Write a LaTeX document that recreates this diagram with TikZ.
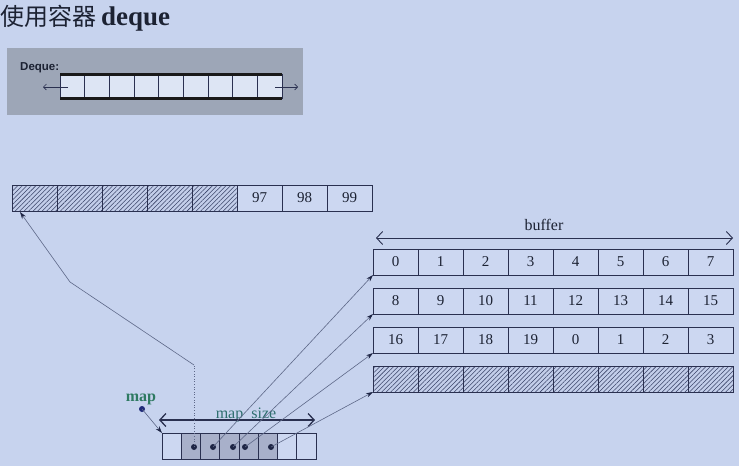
\documentclass[tikz,border=0pt]{standalone}
\usepackage{fontspec}
\setmainfont{Liberation Serif}
\newfontfamily\cjk{Noto Sans CJK SC}
\newfontfamily\lsans{Liberation Sans}
\usetikzlibrary{patterns.meta,arrows.meta}
\definecolor{bgc}{HTML}{C7D3EE}
\definecolor{cellc}{HTML}{CCD7F1}
\definecolor{linec}{HTML}{2A3050}
\definecolor{hatchc}{HTML}{3A4468}
\definecolor{hatchbg}{HTML}{C3CEEA}
\definecolor{ptrc}{HTML}{5E6888}
\definecolor{tipc}{HTML}{1E2545}
\definecolor{shadec}{HTML}{A8B0CA}
\definecolor{boxc}{HTML}{9DA6B7}
\definecolor{stripc}{HTML}{DDE5F4}
\definecolor{titlec}{HTML}{1C2233}
\definecolor{mapc}{HTML}{2F7A62}
\definecolor{mapsc}{HTML}{2D6E6E}
\definecolor{dotc}{HTML}{1F2A78}
\begin{document}
\begin{tikzpicture}[x=1pt,y=-1pt,
  cell/.style={draw=linec, fill=cellc, line width=0.8pt, minimum width=45pt, minimum height=26pt,
    inner sep=0pt, outer sep=0pt, anchor=north west, font=\fontsize{15}{15}\selectfont, text=titlec},
  hatch/.style={cell, preaction={fill=hatchbg},
    pattern={Lines[angle=45,distance=3.2pt,line width=0.55pt]}, pattern color=hatchc},
  mcell/.style={draw=linec, fill=cellc, line width=0.8pt, minimum width=19.25pt, minimum height=26pt,
    inner sep=0pt, outer sep=0pt, anchor=north west},
  mshade/.style={mcell, fill=shadec},
  scell/.style={draw=linec, fill=stripc, line width=0.7pt, minimum width=24.67pt, minimum height=24pt,
    inner sep=0pt, outer sep=0pt, anchor=north west},
  dot/.style={circle, fill=tipc, inner sep=0pt, minimum size=6pt},
  ptr/.style={draw=ptrc, line width=0.6pt, -{Stealth[length=7pt,width=4.5pt,color=tipc]}},
  barb/.style={draw=linec, line width=0.9pt, {Straight Barb[length=6pt,width=13pt]}-{Straight Barb[length=6pt,width=13pt]}},
  smallbarb/.style={draw=linec, line width=0.7pt, -{Straight Barb[length=3pt,width=6pt]}}
]
\fill[bgc] (0,0) rectangle (739,466);
\useasboundingbox (0,0) rectangle (739,466);

% title
\node[anchor=west, inner sep=0pt, text=titlec] (title) at (0,18)
  {{\cjk\fontsize{24}{24}\selectfont 使用容器}\hspace{5pt}{\fontsize{27}{27}\selectfont\bfseries deque}};

% grey deque box
\fill[boxc] (7,48) rectangle (303,115);
\node[anchor=base west, inner sep=0pt, font=\lsans\bfseries\fontsize{11.5}{12}\selectfont, text=titlec] (dqlbl) at (20,70) {Deque:};
\foreach \i in {0,...,8} \node[scell] (s\i) at ({60+24.67*\i},74.5) {};
\draw[line width=3pt, draw=black!90] (s0.north west) -- (s8.north east);
\draw[line width=3pt, draw=black!90] (s0.south west) -- (s8.south east);
\coordinate (la) at (68,87); \coordinate (lb) at (43,87);
\coordinate (ra) at (275,87); \coordinate (rb) at (298,87);
\draw[smallbarb] (la) -- (lb);
\draw[smallbarb] (ra) -- (rb);

% top row
\foreach \i in {0,...,4} \node[hatch] (t\i) at ({12+45*\i},185) {};
\foreach \i/\v in {5/97,6/98,7/99} \node[cell] (t\i) at ({12+45*\i},185) {\v};

% buffer
\coordinate (bl) at (376,238); \coordinate (br) at (733,238);
\draw[barb] (bl) -- (br);
\node[font=\fontsize{16}{16}\selectfont, text=titlec] (buf) at (544,225) {buffer};
\foreach \v [count=\i from 0] in {0,...,7} \node[cell] (a\i) at ({373+45*\i},249) {\v};
\foreach \v [count=\i from 0] in {8,...,15} \node[cell] (b\i) at ({373+45*\i},288) {\v};
\foreach \v [count=\i from 0] in {16,17,18,19,0,1,2,3} \node[cell] (c\i) at ({373+45*\i},327) {\v};
\foreach \i in {0,...,7} \node[hatch] (e\i) at ({373+45*\i},366) {};

% map
\foreach \i in {0,6,7} \node[mcell] (m\i) at ({162+19.25*\i},433) {};
\foreach \i in {1,...,5} \node[mshade] (m\i) at ({162+19.25*\i},433) {};
\node[dot] (d1) at (194,447) {};
\node[dot] (d2) at (213,447) {};
\node[dot] (d3) at (233,447) {};
\node[dot] (d4) at (245,447) {};
\node[dot] (d5) at (271,447) {};

\node[font=\fontsize{16}{16}\selectfont\bfseries, text=mapc, inner sep=0pt] (maplbl) at (141,399) {map};
\node[dot, fill=dotc] (mdot) at (142,409) {};
\draw[ptr] (mdot.center) -- (m0.north west);

\node[anchor=base, inner sep=0pt, font=\fontsize{16}{16}\selectfont, text=mapsc] (mslbl) at (246,418.3) {map\_size};
\coordinate (ms1) at (159,420); \coordinate (ms2) at (315,420);
\draw[barb, line width=1.3pt] (ms1) -- (ms2);

% pointers
\coordinate (k1) at (194,365); \coordinate (k2) at (70,282); \coordinate (tg) at (20,212);
\draw[draw=ptrc, line width=0.6pt, dotted] (d1.center) -- (k1);
\draw[ptr] (k1) -- (k2) -- (tg);
\draw[ptr] (d2.center) -- (a0.south west);
\draw[ptr] (d3.center) -- (b0.south west);
\draw[ptr] (d4.center) -- (c0.south west);
\draw[ptr] (d5.center) -- (e0.south west);
\end{tikzpicture}
\end{document}
